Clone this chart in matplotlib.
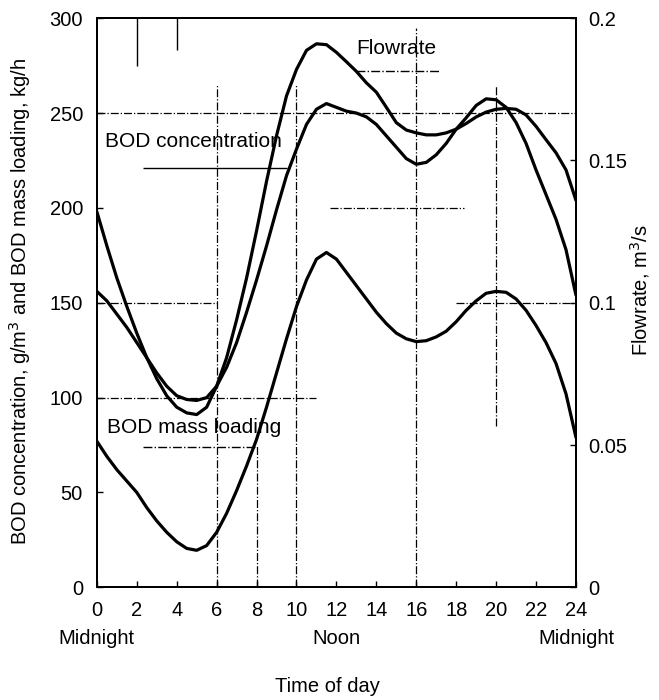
import matplotlib
matplotlib.use("Agg")
import matplotlib.pyplot as plt
import numpy as np

plt.rcParams['font.family'] = ['Liberation Sans', 'DejaVu Sans']
plt.rcParams['font.size'] = 14.5

# hours of the day, every half hour
hours = np.arange(0, 24.5, 0.5)

# BOD concentration, g/m3 (left axis)
bod_conc = [156, 151, 144, 137, 129, 121, 113, 106, 101, 99,
            98.5, 100, 106, 116, 129, 145, 162, 180, 199, 217,
            231, 244, 252, 255, 253, 251, 250, 248, 244, 238,
            232, 226, 223, 224, 228, 234, 241.5, 247.5, 254, 257.5,
            257, 253, 245, 234, 220, 207, 194, 178, 154]

# BOD mass loading, kg/h (left axis)
bod_load = [77, 69, 62, 56, 50, 42, 35, 29, 24, 20.5,
            19.5, 22, 29, 39, 51, 64, 78, 95, 113, 131,
            148, 162, 173, 176.5, 173, 166, 159, 152, 145, 139,
            134, 131, 129.5, 130, 132, 135, 140, 146, 151, 155,
            156, 155.5, 152, 146, 138, 129, 118, 102, 79]

# flowrate, m3/s (right axis)
flowrate = [0.132, 0.120, 0.1087, 0.0987, 0.0893, 0.0807, 0.0733, 0.0673, 0.0633, 0.0613,
            0.0607, 0.0633, 0.0707, 0.0807, 0.094, 0.1087, 0.1253, 0.1427, 0.1587, 0.1727,
            0.182, 0.1887, 0.191, 0.1907, 0.188, 0.1847, 0.1813, 0.1773, 0.174, 0.1687,
            0.1633, 0.1607, 0.1597, 0.159, 0.159, 0.1597, 0.161, 0.163, 0.1653, 0.167,
            0.168, 0.1683, 0.168, 0.166, 0.162, 0.1573, 0.1527, 0.1467, 0.136]

hour_ticks = list(range(0, 25, 2))
left_ticks = [0, 50, 100, 150, 200, 250, 300]
right_ticks = [0, 0.05, 0.1, 0.15, 0.2]
right_labels = ['0', '0.05', '0.1', '0.15', '0.2']
day_marks = [(0, 'Midnight'), (12, 'Noon'), (24, 'Midnight')]

# broken dash-dot guide lines as in the scanned figure
h_guides = [(100, 0, 11), (150, 0, 6), (150, 18, 24), (200, 11.7, 18.4),
            (250, 0, 24)]
v_guides = [(6, 0, 265), (8, 0, 75), (10, 0, 265), (16, 0, 295), (20, 85, 265)]

fig = plt.figure(figsize=(6.59, 7.0), dpi=100)
ax = fig.add_axes([0.147, 0.161, 0.727, 0.813])
ax2 = ax.twinx()

for y, x0, x1 in h_guides:
    ax.hlines(y, x0, x1, colors='black', linestyles='-.', linewidth=0.9)
for x, y0, y1 in v_guides:
    ax.vlines(x, y0, y1, colors='black', linestyles='-.', linewidth=0.9)
ax.vlines([2, 4], [275, 283], 300, colors='black', linewidth=1.0)

line_kw = dict(color='black', linewidth=2.3, solid_joinstyle='round',
               solid_capstyle='round')
ax.plot(hours, bod_conc, **line_kw)
ax.plot(hours, bod_load, **line_kw)
ax2.plot(hours, flowrate, **line_kw)

ax.set_xlim(0, 24)
ax.set_ylim(0, 300)
ax2.set_ylim(0, 0.2)

ax.set_xticks(hour_ticks)
ax.set_yticks(left_ticks)
ax2.set_yticks(right_ticks)
ax2.set_yticklabels(right_labels)

ax.tick_params(direction='in', length=4, width=1, pad=10)
ax2.tick_params(direction='in', length=4, width=1, pad=9)

for a in (ax, ax2):
    for s in a.spines.values():
        s.set_linewidth(1.4)

# curve labels with leader lines
ax.text(0.4, 235, 'BOD concentration', va='center', ha='left', fontsize=15)
ax.hlines(221, 2.3, 9.5, colors='black', linewidth=1.0)
ax.text(13.0, 284, 'Flowrate', va='center', ha='left', fontsize=15)
ax.hlines(272, 13.0, 17.2, colors='black', linestyles='-.', linewidth=1.0)
ax.text(0.5, 84, 'BOD mass loading', va='center', ha='left', fontsize=15)
ax.hlines(74, 2.3, 7.9, colors='black', linestyles='-.', linewidth=1.0)

for h, name in day_marks:
    ax.annotate(name, xy=(h, 0), xycoords=('data', 'axes fraction'),
                xytext=(0, -37), textcoords='offset points',
                ha='center', va='center')

fig.text(0.497, 0.02, 'Time of day', ha='center', va='center')
fig.text(0.031, 0.569, 'BOD concentration, g/m$^3$ and BOD mass loading, kg/h',
         rotation=90, ha='center', va='center')
fig.text(0.971, 0.586, 'Flowrate, m$^3$/s', rotation=90, ha='center', va='center')

fig.savefig('out.png', dpi=100)
